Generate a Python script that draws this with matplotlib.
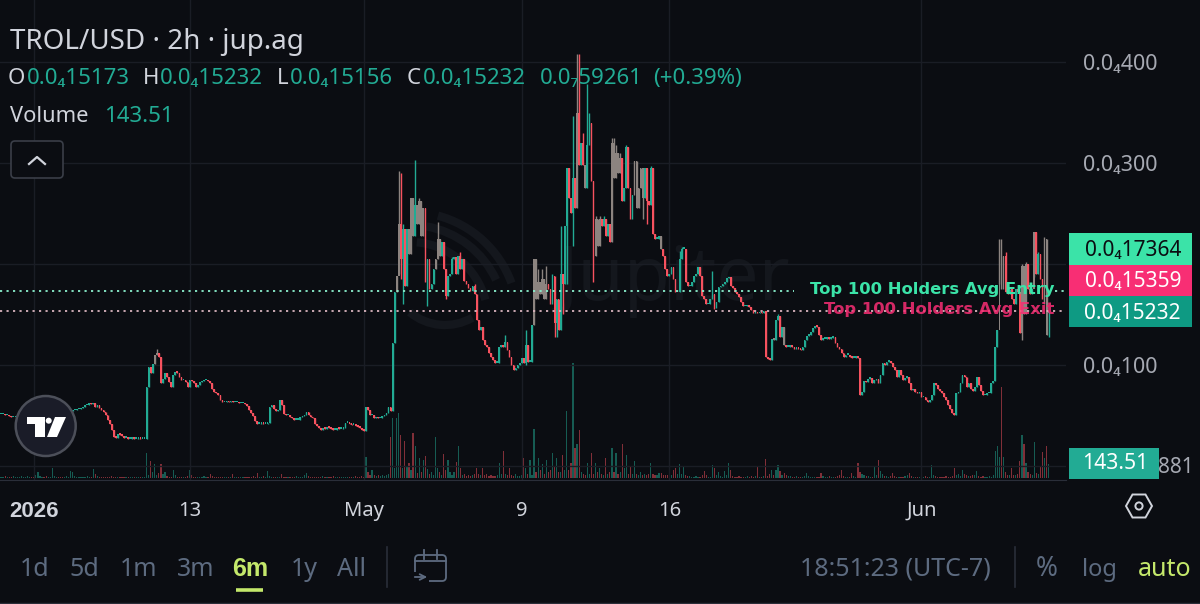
import numpy as np
import matplotlib
matplotlib.use('Agg')
import matplotlib.pyplot as plt
from matplotlib.patches import Arc, Circle, FancyBboxPatch, Polygon, Rectangle

plt.rcParams['font.family'] = ['Noto Sans', 'DejaVu Sans']

# prices are in units of 0.0₄1 / 100, so 100 reads 0.0₄100
closes = [
    51, 51, 50, 50, 49, 48, 48, 48, 49, 50, 52, 52,
    53, 53, 54, 53, 52, 52, 53, 54, 54, 53, 52, 52, 53, 54, 55, 55, 54, 53, 52, 52, 53, 54, 54, 55, 55, 56, 56, 57,
    58, 60, 60, 62, 61, 62, 58, 60, 57, 55, 53, 50, 46, 42, 36, 29, 28, 32, 31, 30,
    28, 28, 27, 27, 29, 27, 27, 28, 27, 27, 27, 78, 98, 92, 101, 110, 112, 108, 82, 86,
    92, 88, 83, 78, 90, 93, 92, 88, 85, 85, 83, 78, 85, 84, 82, 78, 80, 83, 84, 85,
    85, 84, 82, 76, 73, 72, 70, 65, 63, 63, 64, 63, 64, 63, 63, 63, 62, 62, 62, 61,
    59, 55, 52, 49, 45, 42, 42, 43, 42, 42, 43, 58, 60, 56, 54, 55, 65, 60, 51, 50,
    50, 48, 47, 46, 46, 46, 48, 49, 50, 53, 50, 48, 47, 42, 40, 38, 36, 38, 37, 39,
    38, 37, 36, 36, 38, 37, 37, 38, 43, 43, 42, 41, 41, 40, 39, 38, 36, 35, 58, 55,
    50, 50, 47, 48, 47, 47, 49, 50, 52, 58, 54, 122, 172, 188, 240, 205, 235, 178, 235, 210,
    265, 228, 258, 240, 262, 228, 255, 182, 205, 175, 180, 195, 205, 225, 208, 222, 195, 168, 188, 190,
    205, 207, 190, 208, 195, 205, 183, 180, 176, 173, 178, 170, 145, 135, 138, 125, 120, 118, 112, 108,
    105, 102, 102, 118, 120, 118, 123, 115, 108, 100, 95, 97, 100, 102, 107, 102, 120, 103, 103, 140,
    205, 165, 182, 170, 185, 165, 180, 175, 160, 188, 142, 165, 135, 190, 180, 238, 295, 265, 250, 285,
    255, 350, 298, 320, 298, 275, 318, 340, 282, 208, 245, 218, 245, 238, 245, 228, 240, 222, 320, 285,
    310, 290, 305, 262, 275, 316, 275, 245, 268, 302, 255, 275, 295, 265, 295, 262, 258, 295, 230, 225,
    225, 228, 215, 208, 195, 188, 190, 197, 185, 172, 172, 205, 215, 215, 182, 178, 178, 182, 188, 190,
    197, 188, 168, 165, 160, 160, 165, 170, 156, 162, 177, 178, 180, 182, 186, 187, 178, 176, 172, 170,
    167, 162, 158, 158, 159, 157, 154, 151, 152, 151, 152, 151, 153, 108, 106, 105, 126, 125, 145, 148,
    128, 138, 120, 118, 118, 119, 118, 116, 117, 116, 115, 118, 125, 129, 130, 133, 137, 139, 138, 130,
    125, 126, 126, 127, 126, 127, 128, 122, 118, 116, 112, 108, 110, 110, 108, 107, 107, 108, 107, 70,
    73, 84, 83, 86, 87, 82, 85, 86, 82, 90, 102, 100, 103, 104, 102, 98, 95, 88, 95, 90,
    85, 87, 88, 82, 75, 76, 73, 72, 73, 68, 68, 65, 63, 65, 70, 82, 80, 76, 74, 72,
    68, 65, 60, 56, 52, 50, 72, 73, 82, 90, 88, 78, 82, 76, 74, 78, 88, 80, 74, 70,
    70, 72, 72, 82, 84, 118, 135, 205, 175, 208, 172, 170, 175, 165, 160, 175, 172, 132, 198, 150,
    200, 175, 170, 175, 232, 190, 210, 185, 165, 225, 130, 152.32,
]
last_open = 151.73

wick_up_index = [76, 194, 195, 196, 202, 204, 213, 220, 224, 231, 246, 256, 260, 262, 264, 266, 269,
                 273, 275, 276, 277, 279, 281, 282, 284, 286, 287, 290, 292, 294, 298, 299, 300, 302,
                 305, 317, 331, 332, 347, 379, 487, 488, 490, 498, 500, 504, 506, 509]
wick_up = [116, 292, 290, 240, 303, 265, 242, 207, 212, 180, 130, 135, 205, 195, 195, 198, 190,
           238, 238, 295, 295, 347, 408, 408, 330, 378, 350, 248, 248, 248, 325, 325, 318, 310,
           318, 297, 213, 217, 193, 150, 225, 225, 212, 200, 202, 232, 212, 227]
wick_down_index = [178, 194, 195, 196, 208, 217, 256, 270, 271, 274, 276, 279, 289, 313, 315,
                   331, 348, 487, 498, 504, 509, 511]
wick_down = [35, 190, 185, 160, 158, 165, 100, 128, 128, 150, 180, 218, 182, 245, 240,
             172, 155, 180, 125, 187, 160, 128]

# candles that read as muddy grey in the screenshot
mixed_index = [75, 76, 193, 194, 199, 200, 201, 203, 204, 205, 206, 212, 213, 214, 260, 261, 262, 263, 264,
               265, 266, 281, 285, 290, 291, 292, 298, 299, 300, 301, 302, 309, 310, 311, 312, 313, 322,
               377, 382, 487, 488, 489, 498, 499, 500, 504, 509, 510]

# volume per candle, same order as closes
volumes = [
    10, 10, 20, 10, 10, 10, 20, 10, 10, 10, 20, 10, 10, 20, 10, 10, 10, 30, 60, 20,
    10, 10, 20, 10, 10, 100, 20, 10, 10, 10, 10, 10, 20, 10, 70, 60, 20, 10, 10, 10,
    10, 10, 20, 10, 10, 90, 40, 20, 10, 10, 10, 10, 10, 10, 20, 10, 10, 10, 10, 10,
    10, 10, 10, 10, 10, 10, 10, 10, 10, 10, 10, 250, 30, 170, 60, 140, 30, 50, 140, 40,
    60, 20, 10, 10, 80, 30, 10, 10, 10, 10, 10, 20, 80, 30, 10, 10, 10, 10, 10, 20,
    10, 10, 40, 20, 10, 10, 10, 10, 10, 10, 10, 10, 10, 40, 10, 10, 10, 10, 10, 10,
    10, 10, 10, 20, 10, 50, 10, 10, 20, 10, 70, 20, 10, 10, 10, 10, 10, 40, 10, 10,
    10, 10, 10, 10, 20, 10, 10, 10, 30, 50, 20, 10, 10, 10, 10, 10, 10, 20, 10, 10,
    10, 10, 20, 10, 10, 10, 10, 10, 10, 10, 10, 10, 10, 20, 10, 10, 20, 10, 210, 60,
    30, 80, 30, 20, 30, 20, 30, 20, 30, 40, 410, 600, 100, 600, 650, 430, 100, 370, 120, 150,
    80, 450, 320, 50, 200, 60, 180, 220, 90, 40, 60, 30, 410, 100, 60, 30, 240, 80, 180, 60,
    30, 60, 160, 320, 100, 30, 40, 20, 30, 20, 30, 40, 100, 40, 30, 100, 30, 40, 20, 30,
    20, 20, 30, 150, 40, 270, 40, 30, 100, 30, 20, 40, 20, 20, 30, 200, 100, 40, 180, 30,
    490, 60, 200, 80, 140, 40, 180, 60, 80, 250, 120, 200, 60, 60, 230, 80, 670, 80, 150, 1150,
    300, 340, 480, 60, 40, 30, 150, 40, 250, 40, 150, 60, 100, 40, 30, 200, 40, 60, 300, 60,
    250, 40, 60, 340, 100, 230, 40, 120, 40, 170, 40, 30, 60, 30, 40, 30, 40, 150, 40, 30,
    30, 50, 50, 30, 30, 30, 30, 30, 80, 100, 40, 140, 40, 110, 30, 20, 20, 10, 10, 20,
    10, 10, 30, 70, 30, 10, 10, 130, 100, 30, 60, 20, 10, 70, 30, 150, 80, 20, 10, 10,
    20, 10, 10, 10, 20, 10, 20, 10, 20, 110, 10, 10, 20, 190, 20, 40, 80, 30, 80, 130,
    70, 30, 50, 30, 20, 20, 10, 10, 20, 10, 10, 10, 20, 50, 20, 10, 10, 10, 10, 10,
    50, 20, 10, 10, 20, 10, 10, 10, 20, 30, 80, 20, 10, 10, 10, 50, 20, 10, 150, 60,
    40, 30, 20, 20, 10, 10, 110, 30, 180, 70, 40, 20, 20, 10, 20, 50, 20, 10, 10, 10,
    10, 20, 30, 50, 20, 10, 10, 10, 10, 20, 10, 20, 10, 10, 130, 30, 20, 10, 10, 10,
    10, 20, 10, 10, 20, 100, 30, 40, 20, 80, 40, 30, 20, 20, 30, 30, 70, 20, 10, 20,
    10, 10, 20, 10, 30, 270, 320, 210, 910, 210, 60, 30, 30, 100, 30, 30, 40, 170, 430, 340,
    150, 60, 40, 30, 360, 50, 40, 120, 260, 200, 320, 143.51,
]

entry_price = 173.64
exit_price = 153.59
price_ticks = [0, 100, 200, 300, 400]
price_tick_labels = ['', '0.0₄100', '', '0.0₄300', '0.0₄400']
date_ticks = [16, 92, 177, 254, 326, 449]
date_labels = ['2026', '13', 'May', '9', '16', 'Jun']

BG = '#0b0d12'
GRID = '#1a1d25'
UP = '#22ab94'
DOWN = '#f7525f'
MIXED = '#8c8480'
ENTRY = '#3be3a8'
EXIT = '#f82e74'
LAST = '#0e9a83'
MUTED = '#5d6b80'
LIME = '#c4e86b'
LIGHT = '#d1d4dc'

c = np.array(closes, dtype=float)
o = np.r_[c[0], c[:-1]]
o[-1] = last_open
v = np.array(volumes, dtype=float)
h = np.maximum(o, c)
l = np.minimum(o, c)
h[wick_up_index] = wick_up
l[wick_down_index] = wick_down
x = np.arange(len(c))
vol_colors = np.where(c >= o, UP, DOWN)
colors = vol_colors.copy()
colors[mixed_index] = MIXED

fig = plt.figure(figsize=(12, 6.04), dpi=100, facecolor=BG)

# full figure layer under the chart, in pixels, for the watermark
back = fig.add_axes([0, 0, 1, 1], zorder=0)
back.set_xlim(0, 1200)
back.set_ylim(604, 0)
back.axis('off')
back.text(558, 281, 'Jupiter', fontsize=54, color='#14171d', va='center', weight='bold')
for r, t1, t2 in [(108, 285, 340), (95, 280, 335), (78, 275, 345)]:
    back.add_patch(Arc((410, 320), 2 * r, 2 * r, theta1=t1, theta2=t2, color='#14171d', lw=6))
back.add_patch(Arc((445, 270), 110, 110, theta1=60, theta2=130, color='#14171d', lw=6))

# chart axes, 0-1066 px wide and 0-480 px tall
ax = fig.add_axes([0, 1 - 480 / 604, 1066 / 1200, 480 / 604], zorder=2)
vol = ax.twinx()
ax.set_zorder(3)
vol.set_zorder(2)
ax.patch.set_visible(False)
vol.patch.set_visible(False)

vol.bar(x, v, width=0.6, color=vol_colors, alpha=0.5, linewidth=0)
vol.set_ylim(-20, 4780)
vol.set_yticks([])

ax.vlines(x, l, h, colors=colors, linewidth=1.0, zorder=3)
ax.bar(x, np.maximum(np.abs(c - o), 1.6), bottom=np.minimum(o, c), width=0.85,
       color=colors, linewidth=0, zorder=3)

ax.set_xlim(-0.5, 519.5)
ax.set_ylim(-13.9, 461.4)
ax.set_xticks(date_ticks, date_labels)
ax.set_yticks(price_ticks, price_tick_labels)
ax.yaxis.tick_right()
ax.grid(True, color=GRID, linewidth=1)
ax.set_axisbelow(True)
ax.tick_params(axis='both', length=0)
ax.tick_params(axis='x', colors=LIGHT, labelsize=14.5, pad=15)
ax.tick_params(axis='y', colors='#a6a9b2', labelsize=15.5, pad=12)
first = ax.get_xticklabels()[0]
first.set_family('Liberation Sans')
first.set_fontweight('bold')
first.set_fontsize(16)
for side in ['top', 'left', 'right']:
    ax.spines[side].set_visible(False)
    vol.spines[side].set_visible(False)
ax.spines['bottom'].set_color('#2a2e39')
vol.spines['bottom'].set_visible(False)

dots = (0, (1.2, 2.4))
ax.axhline(entry_price, xmin=0, xmax=0.745, color='#8af0cd', linewidth=1.3, linestyle=dots, zorder=4)
ax.axhline(entry_price, xmin=0.99, xmax=1, color='#8af0cd', linewidth=1.3, linestyle=dots, zorder=4)
ax.axhline(exit_price, color='#d9b3bd', linewidth=1.3, linestyle=dots, zorder=4)

# top layer, in pixels, for the tradingview ui bits
top = fig.add_axes([0, 0, 1, 1], zorder=5)
top.set_xlim(0, 1200)
top.set_ylim(604, 0)
top.axis('off')
top.patch.set_visible(False)


def label(px, py, s, color, size, **kw):
    # va center sits a bit high on these fonts
    top.text(px, py + 1.5, s, color=color, fontsize=size, va='center', **kw)


label(10, 41, 'TROL/USD · 2h · jup.ag', LIGHT, 20)
for px, s in [(8, 'O'), (143, 'H'), (277, 'L'), (407, 'C')]:
    label(px, 77, s, LIGHT, 16)
for px, s in [(27, '0.0₄15173'), (160, '0.0₄15232'), (290, '0.0₄15156'), (423, '0.0₄15232'),
              (540, '0.0₇59261'), (653, '(+0.39%)')]:
    label(px, 77, s, UP, 16)
label(10, 115, 'Volume', LIGHT, 15.7)
label(104, 115, '143.51', UP, 16)

top.add_patch(FancyBboxPatch((13, 143), 48, 33, boxstyle='round,pad=2,rounding_size=4',
                             fc=BG, ec='#3a3e48', lw=1.2))
top.plot([29, 37, 45], [164, 157, 164], color=LIGHT, lw=1.6)

label(1054, 288, 'Top 100 Holders Avg Entry', ENTRY, 11.8, ha='right', weight='bold', family='DejaVu Sans')
label(1054, 308, 'Top 100 Holders Avg Exit', EXIT, 11.8, ha='right', weight='bold', family='DejaVu Sans', alpha=0.85)

for y0, y1, fc, tc, s in [(233, 265, ENTRY, '#0b0d12', '0.0₄17364'),
                          (265, 296, EXIT, 'white', '0.0₄15359'),
                          (296, 327, LAST, 'white', '0.0₄15232')]:
    top.add_patch(Rectangle((1069, y0), 123, y1 - y0, fc=fc, ec='none'))
    label(1181, (y0 + y1) / 2, s, tc, 15, ha='right')

label(1158, 466, '881', '#a6a9b2', 15)
top.add_patch(Rectangle((1069, 448), 90, 31, fc=UP, ec='none'))
label(1148, 462, '143.51', 'white', 15.2, ha='right')

# tradingview badge
top.add_patch(Circle((45.7, 426), 30, fc='#1a1c28', ec='#4c4f59', lw=1.8))
top.add_patch(Polygon([(26.7, 417), (45, 417), (45, 437), (35, 437), (35, 424), (26.7, 424)], fc='white'))
top.add_patch(Circle((48.7, 420.7), 3, fc='white'))
top.add_patch(Polygon([(55, 417), (66, 417), (57, 437), (47, 437)], fc='white'))

# settings hexagon
top.add_patch(Polygon([(1126, 506), (1132.5, 494.5), (1145.5, 494.5), (1152, 506), (1145.5, 517.5), (1132.5, 517.5)],
                      fc='none', ec=LIGHT, lw=1.4))
top.add_patch(Circle((1139, 506), 3.6, fc='none', ec=LIGHT, lw=1.4))

# range row
for px, s in [(20, '1d'), (69, '5d'), (120, '1m'), (177, '3m'), (291, '1y'), (337, 'All')]:
    label(px, 568, s, MUTED, 18)
label(232, 568, '6m', LIME, 18, weight='bold', family='Liberation Sans')
top.plot([236, 263], [590, 590], color=LIME, lw=2.6, solid_capstyle='butt')
top.plot([387, 387], [547, 587], color='#2a2e39', lw=1.2)
top.add_patch(FancyBboxPatch((415, 555), 31, 26, boxstyle='round,pad=0,rounding_size=4', fc='none', ec=MUTED, lw=1.3))
top.add_patch(Rectangle((411, 572), 18, 12, fc=BG, ec='none'))
top.plot([415, 446], [561, 561], color=MUTED, lw=1.3)
top.plot([424, 424], [550, 559], color=MUTED, lw=1.3)
top.plot([437, 437], [550, 559], color=MUTED, lw=1.3)
top.annotate('', xy=(430, 577), xytext=(412, 577), arrowprops=dict(arrowstyle='->', color=MUTED, lw=1.3))

label(800, 568, '18:51:23 (UTC-7)', MUTED, 18)
top.plot([1015, 1015], [547, 587], color='#2a2e39', lw=1.2)
label(1036, 568, '%', MUTED, 19)
label(1082, 568, 'log', MUTED, 17)
label(1138, 568, 'auto', LIME, 18)
top.plot([0, 1200], [603, 603], color='#2a2e39', lw=1)

plt.savefig('out.png', dpi=100, facecolor=BG)
